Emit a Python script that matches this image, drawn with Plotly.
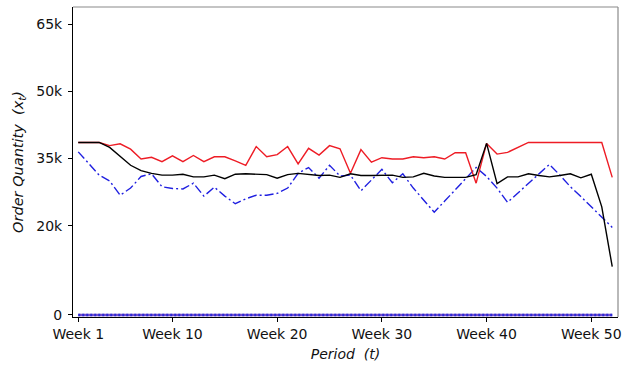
import plotly.graph_objects as go

# Weekly order quantities (in thousands of units)
weeks = list(range(1, 53))

orders_red = [38.6, 38.6, 38.6, 37.9, 38.3, 37.1, 34.9, 35.3, 34.3, 35.6,
              34.3, 35.7, 34.3, 35.4, 35.4, 34.5, 33.5, 37.7, 35.4, 35.9,
              37.7, 33.8, 37.3, 35.8, 37.9, 37.2, 31.7, 37.0, 34.2, 35.2,
              34.9, 34.9, 35.4, 35.2, 35.4, 34.9, 36.3, 36.3, 29.5, 38.4,
              36.0, 36.4, 37.5, 38.6, 38.6, 38.6, 38.6, 38.6, 38.6, 38.6,
              38.6, 30.8]

orders_black = [38.6, 38.6, 38.6, 37.5, 35.4, 33.5, 32.3, 31.7, 31.3, 31.3,
                31.5, 30.9, 30.9, 31.3, 30.5, 31.5, 31.6, 31.5, 31.4, 30.6,
                31.4, 31.7, 31.5, 31.2, 31.3, 30.8, 31.6, 31.2, 31.2, 31.2,
                31.3, 30.8, 30.9, 31.7, 31.1, 30.8, 30.8, 30.8, 31.4, 38.4,
                29.4, 30.9, 30.9, 31.6, 31.2, 30.9, 31.2, 31.6, 30.7, 31.5,
                24.2, 10.8]

orders_blue = [36.5, 33.8, 31.3, 30.0, 26.8, 28.4, 31.0, 31.6, 28.7, 28.3,
               28.2, 29.5, 26.6, 28.6, 26.6, 24.9, 26.0, 26.8, 26.8, 27.2,
               28.4, 31.7, 33.0, 30.6, 33.5, 31.1, 31.3, 27.8, 30.2, 32.6,
               29.6, 31.6, 28.4, 25.7, 23.0, 25.5, 28.0, 30.5, 33.0, 31.0,
               28.4, 25.2, 27.3, 29.4, 31.6, 33.7, 31.3, 28.7, 26.5, 24.2,
               22.0, 19.6]

orders_zero = [0.0] * 52

x_tick_vals = [1, 10, 20, 30, 40, 50]
x_tick_text = ["Week 1", "Week 10", "Week 20", "Week 30", "Week 40", "Week 50"]
y_tick_vals = [0, 20, 35, 50, 65]
y_tick_text = ["0", "20k", "35k", "50k", "65k"]

FONT = "DejaVu Sans"

fig = go.Figure()

# Policies that never order sit on the zero line
fig.add_trace(go.Scatter(x=weeks, y=orders_zero, mode="lines",
                         line=dict(color="#7a4fc8", width=2.6),
                         showlegend=False, hoverinfo="skip"))
fig.add_trace(go.Scatter(x=weeks, y=orders_zero, mode="lines",
                         line=dict(color="#2a2ad8", width=2.6, dash="2px,2px"),
                         showlegend=False, hoverinfo="skip"))

fig.add_trace(go.Scatter(x=weeks, y=orders_blue, mode="lines",
                         line=dict(color="#1f1fe0", width=1.4, dash="9px,3px,2px,3px"),
                         showlegend=False))
fig.add_trace(go.Scatter(x=weeks, y=orders_red, mode="lines",
                         line=dict(color="#ee1c25", width=1.4),
                         showlegend=False))
fig.add_trace(go.Scatter(x=weeks, y=orders_black, mode="lines",
                         line=dict(color="#000000", width=1.4),
                         showlegend=False))

fig.update_layout(
    width=632, height=366,
    margin=dict(l=73, r=14, t=7, b=49),
    paper_bgcolor="white", plot_bgcolor="white",
    font=dict(family=FONT, size=14, color="#111111"),
    xaxis=dict(
        range=[0.5, 52.55],
        tickmode="array", tickvals=x_tick_vals, ticktext=x_tick_text,
        ticks="outside", ticklen=4, tickcolor="black", tickwidth=1,
        showgrid=False, zeroline=False,
        showline=True, linecolor="black", linewidth=1,
        title=dict(text="<i>Period  (t)</i>", standoff=8,
                   font=dict(family=FONT, size=14)),
    ),
    yaxis=dict(
        range=[-0.45, 68.92],
        tickmode="array", tickvals=y_tick_vals, ticktext=y_tick_text,
        ticks="outside", ticklen=4, tickcolor="black", tickwidth=1,
        ticklabelstandoff=3,
        showgrid=False, zeroline=False,
        showline=True, linecolor="black", linewidth=1,
        title=dict(text="<i>Order Quantity  (x<sub>t</sub>)</i>", standoff=9,
                   font=dict(family=FONT, size=14.5)),
    ),
    shapes=[
        # light frame on the top and right edges
        dict(type="line", xref="paper", yref="paper", x0=0, x1=1, y0=1, y1=1,
             line=dict(color="#8a8a8a", width=1.2)),
        dict(type="line", xref="paper", yref="paper", x0=1, x1=1, y0=0, y1=1,
             line=dict(color="#8a8a8a", width=1.2)),
    ],
)

fig.write_html("out.html")
